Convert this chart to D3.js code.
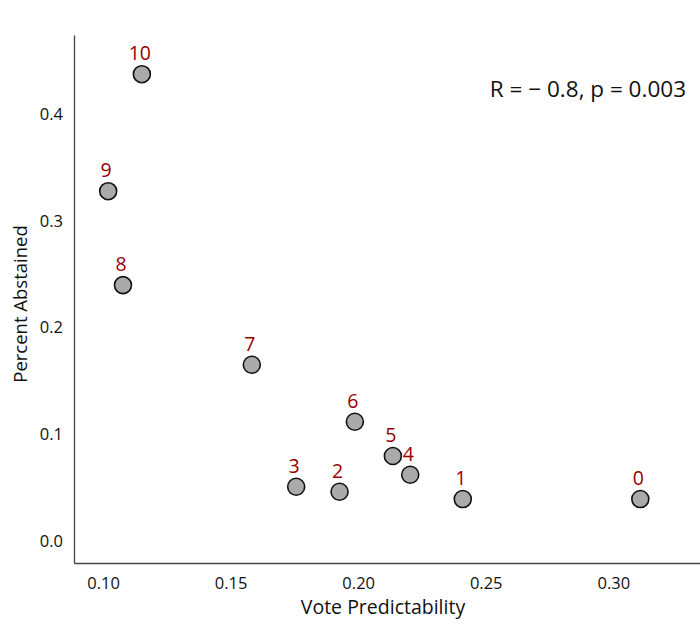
<!DOCTYPE html>
<html>
<head>
<meta charset="utf-8">
<script src="https://cdn.jsdelivr.net/npm/d3@7"></script>
<style>
  body { margin: 0; background: #fff; }
  text { font-family: "Open Sans", sans-serif; }
</style>
</head>
<body>
<svg width="700" height="630"></svg>
<script>
const labels = ["0", "1", "2", "3", "4", "5", "6", "7", "8", "9", "10"];
const predictability = [0.3106, 0.2410, 0.1927, 0.1757, 0.2204, 0.2136, 0.1987, 0.1583, 0.1078, 0.1020, 0.1152];
const abstained = [0.0393, 0.0393, 0.0461, 0.0508, 0.0621, 0.0796, 0.1117, 0.1651, 0.2397, 0.3277, 0.4373];
const xTicks = [0.10, 0.15, 0.20, 0.25, 0.30];
const yTicks = [0.0, 0.1, 0.2, 0.3, 0.4];

const svg = d3.select("svg");
const margin = { top: 35, right: 0, bottom: 67, left: 74 };
const width = +svg.attr("width");
const height = +svg.attr("height");
const innerWidth = width - margin.left - margin.right;
const innerHeight = height - margin.top - margin.bottom;

const data = labels.map((d, i) => ({ label: d, x: predictability[i], y: abstained[i] }));

const xScale = d3.scaleLinear().domain([0.0886, 0.334]).range([0, innerWidth]);
const yScale = d3.scaleLinear().domain([-0.0206, 0.474]).range([innerHeight, 0]);

const g = svg.append("g").attr("transform", `translate(${margin.left}, ${margin.top})`);

const xAxisG = g.append("g")
  .attr("transform", `translate(0, ${innerHeight})`)
  .call(d3.axisBottom(xScale).tickValues(xTicks).tickFormat(d3.format(".2f")).tickSize(0).tickPadding(14));
const yAxisG = g.append("g")
  .call(d3.axisLeft(yScale).tickValues(yTicks).tickFormat(d3.format(".1f")).tickSize(0).tickPadding(11));

[xAxisG, yAxisG].forEach((a) => {
  a.attr("font-family", null).attr("font-size", null);
  a.select(".domain").attr("stroke", "#444").attr("stroke-width", 1.3);
  a.selectAll("text").style("font-size", "16.5px").attr("fill", "#111");
});

g.append("text")
  .attr("x", (383 - margin.left))
  .attr("y", 614 - margin.top)
  .attr("text-anchor", "middle")
  .attr("font-size", 19.5)
  .attr("fill", "#111")
  .text("Vote Predictability");

g.append("text")
  .attr("transform", `translate(${27 - margin.left}, ${304 - margin.top}) rotate(-90)`)
  .attr("text-anchor", "middle")
  .attr("font-size", 18.5)
  .attr("fill", "#111")
  .text("Percent Abstained");

g.selectAll("circle.pt")
  .data(data)
  .enter()
  .append("circle")
  .attr("class", "pt")
  .attr("cx", (d) => xScale(d.x))
  .attr("cy", (d) => yScale(d.y))
  .attr("r", 8.5)
  .attr("fill", "#aaaaaa")
  .attr("stroke", "#111")
  .attr("stroke-width", 1.6);

g.selectAll("text.lbl")
  .data(data)
  .enter()
  .append("text")
  .attr("class", "lbl")
  .attr("x", (d) => xScale(d.x) - 2)
  .attr("y", (d) => yScale(d.y) - 14)
  .attr("text-anchor", "middle")
  .attr("font-size", 19.5)
  .attr("fill", "#990000")
  .text((d) => d.label);

g.append("text")
  .attr("x", 686 - margin.left)
  .attr("y", 97 - margin.top)
  .attr("text-anchor", "end")
  .attr("font-size", 22.5)
  .attr("fill", "#111")
  .text("R = \u2212 0.8, p = 0.003");
</script>
</body>
</html>
